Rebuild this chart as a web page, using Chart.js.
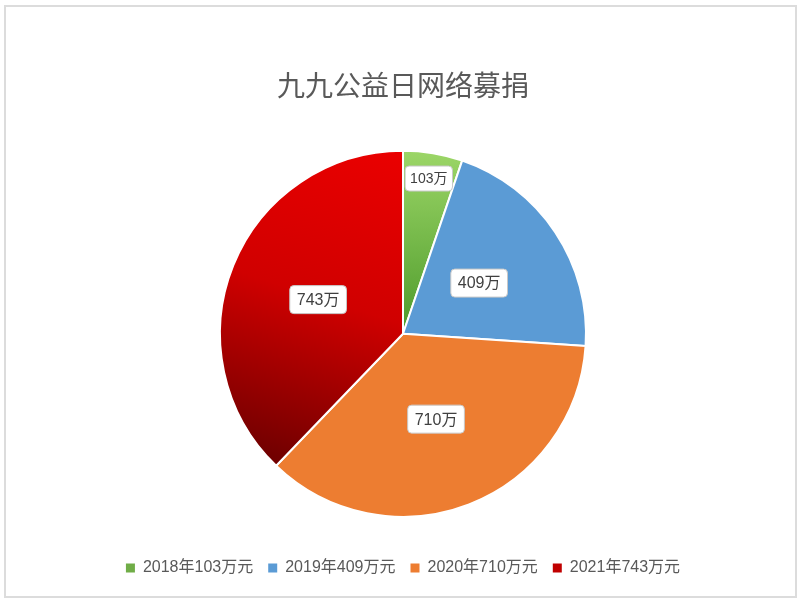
<!DOCTYPE html>
<html>
<head>
<meta charset="utf-8">
<script src="https://cdn.jsdelivr.net/npm/chart.js@4"></script>
<style>
  body { margin: 0; background: #fff; }
  #frame { position: absolute; left: 4px; top: 5px; width: 789px; height: 589px; border: 2px solid #dcdcdc; }
  #wrap { position: absolute; left: 0; top: 0; width: 800px; height: 600px; }
</style>
</head>
<body>
<div id="frame"></div>
<div id="wrap"><canvas id="pie"></canvas></div>
<script>
// ================= Data =================
const years = ['2018', '2019', '2020', '2021'];
const amounts = [103, 409, 710, 743];
const legendLabels = ['2018年103万元', '2019年409万元', '2020年710万元', '2021年743万元'];
const sliceLabels = ['103万', '409万', '710万', '743万'];

const solidColors = ['#70ad47', '#5b9bd5', '#ed7d31', '#c00000'];
const PIE_RADIUS = 183;

function pieGeom(chart) {
  const a = chart.chartArea;
  return { cx: (a.left + a.right) / 2, cy: (a.top + a.bottom) / 2, r: PIE_RADIUS };
}

function sliceColor(ctx) {
  const chart = ctx.chart;
  if (!chart.chartArea) return solidColors[ctx.dataIndex];
  const { cx, cy, r } = pieGeom(chart);
  const c = chart.ctx;
  if (ctx.dataIndex === 0) {
    const g = c.createLinearGradient(cx, cy - r, cx, cy);
    g.addColorStop(0, '#9cd667');
    g.addColorStop(1, '#4d9a2b');
    return g;
  }
  if (ctx.dataIndex === 3) {
    const g = c.createLinearGradient(cx, cy - r, cx - r * 0.55, cy + r * 0.72);
    g.addColorStop(0, '#ea0000');
    g.addColorStop(0.5, '#d00000');
    g.addColorStop(1, '#720000');
    return g;
  }
  return solidColors[ctx.dataIndex];
}

// labels in white boxes on top of each slice
const boxLabels = {
  id: 'boxLabels',
  afterDatasetsDraw(chart) {
    const c = chart.ctx;
    const meta = chart.getDatasetMeta(0);
    const total = amounts.reduce((s, v) => s + v, 0);
    meta.data.forEach((arc, i) => {
      const p = arc.getProps(['x', 'y', 'startAngle', 'endAngle', 'outerRadius']);
      const mid = (p.startAngle + p.endAngle) / 2;
      const small = amounts[i] / total < 0.1;
      const f = small ? 0.86 : 0.5;
      const x = p.x + Math.cos(mid) * p.outerRadius * f;
      const y = p.y + Math.sin(mid) * p.outerRadius * f;
      const size = small ? 14 : 16;
      c.save();
      c.font = size + 'px "Liberation Sans", "Noto Sans CJK SC", sans-serif';
      const w = c.measureText(sliceLabels[i]).width + (small ? 10 : 14);
      const h = small ? 25 : 28;
      c.beginPath();
      c.roundRect(x - w / 2, y - h / 2, w, h, 4);
      c.fillStyle = '#ffffff';
      c.fill();
      c.strokeStyle = '#c8c8c8';
      c.lineWidth = 1;
      c.stroke();
      c.fillStyle = '#404040';
      c.textAlign = 'center';
      c.textBaseline = 'middle';
      c.fillText(sliceLabels[i], x, y + 1);
      c.restore();
    });
  }
};

new Chart(document.getElementById('pie'), {
  type: 'pie',
  data: {
    labels: legendLabels,
    datasets: [{
      data: amounts,
      backgroundColor: sliceColor,
      borderColor: '#ffffff',
      borderWidth: 2,
      radius: PIE_RADIUS
    }]
  },
  options: {
    responsive: true,
    maintainAspectRatio: false,
    animation: false,
    layout: { padding: { left: 6, right: 0, top: 0, bottom: 14 } },
    plugins: {
      title: {
        display: true,
        text: '九九公益日网络募捐',
        color: '#595959',
        font: { size: 28, family: '"Noto Sans CJK SC", sans-serif', weight: 'normal' },
        padding: { top: 69, bottom: 20 }
      },
      legend: {
        position: 'bottom',
        labels: {
          color: '#595959',
          font: { size: 16, family: '"Liberation Sans", "Noto Sans CJK SC", sans-serif' },
          boxWidth: 9,
          boxHeight: 9,
          padding: 15,
          generateLabels(chart) {
            return legendLabels.map((t, i) => ({
              text: t,
              fillStyle: solidColors[i],
              strokeStyle: solidColors[i],
              lineWidth: 0,
              hidden: false,
              index: i,
              fontColor: '#595959'
            }));
          }
        }
      },
      tooltip: { enabled: false }
    }
  },
  plugins: [boxLabels]
});
</script>
</body>
</html>
